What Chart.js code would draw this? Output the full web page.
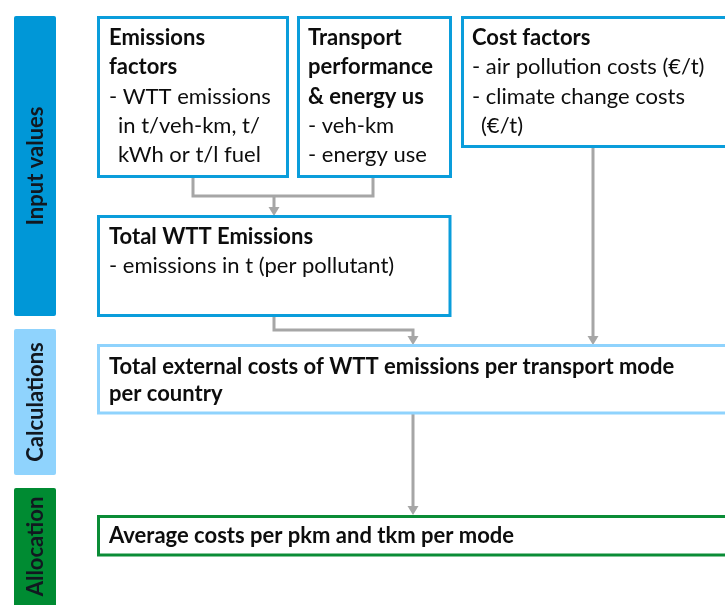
<!DOCTYPE html>
<html><head><meta charset="utf-8">
<script src="https://cdn.jsdelivr.net/npm/chart.js@4.4.1/dist/chart.umd.min.js"></script>
<style>html,body{margin:0;padding:0;background:#fff;overflow:hidden}#wrap{width:725px;height:605px;position:relative}</style>
</head><body><div id="wrap"><canvas id="c"></canvas></div>
<script>
// ---- content ----
const stageNames = ['Input values', 'Calculations', 'Allocation'];
const boxTitles = [
  ['Emissions', 'factors'],
  ['Transport', 'performance', '& energy us'],
  ['Cost factors'],
  ['Total WTT Emissions'],
  ['Total external costs of WTT emissions per transport mode', 'per country'],
  ['Average costs per pkm and tkm per mode']
];
const boxItems = [
  ['- WTT emissions', 'in t/veh-km, t/', 'kWh or t/l fuel'],
  ['- veh-km', '- energy use'],
  ['- air pollution costs (€/t)', '- climate change costs', '(€/t)'],
  ['- emissions in t (per pollutant)'],
  [],
  []
];
// which item lines are indented (continuation lines)
const itemIndent = [[0, 1, 1], [0, 0], [0, 0, 1], [0], [], []];

// ---- layout (diagram units = px of a 725x605 canvas) ----
const stageLayout = [
  {x0: 14, x1: 56, y0: 16, y1: 316, color: '#0097d7'},
  {x0: 14, x1: 56, y0: 329, y1: 475, color: '#8fd3fd'},
  {x0: 14, x1: 56, y0: 488, y1: 612, color: '#008b32'}
];
const BLUE = '#0a9ddb', LIGHT = '#8fd3fd', GREEN = '#0a8c36', GREY = '#a6a6a6';
const boxLayout = [
  {x0: 98.5, y0: 17.5, x1: 287.5, y1: 176.5, color: BLUE, tx: 109, ty: 45, lh: 29.3},
  {x0: 298.5, y0: 17.5, x1: 450.5, y1: 176.5, color: BLUE, tx: 308, ty: 45, lh: 29.3},
  {x0: 462.5, y0: 17.5, x1: 740, y1: 146.5, color: BLUE, tx: 472, ty: 45, lh: 29.3},
  {x0: 98.5, y0: 216.5, x1: 450, y1: 315.5, color: BLUE, tx: 109, ty: 244, lh: 29},
  {x0: 98.5, y0: 345.5, x1: 740, y1: 413, color: LIGHT, tx: 109, ty: 374, lh: 27},
  {x0: 98.5, y0: 516.5, x1: 740, y1: 555, color: GREEN, tx: 109, ty: 543, lh: 27}
];
const connectors = [
  {pts: [[193, 177], [193, 196], [373, 196], [373, 177]], arrow: false},
  {pts: [[274, 196], [274, 207]], arrow: true},
  {pts: [[274, 316], [274, 330], [413, 330], [413, 336]], arrow: true},
  {pts: [[593, 147], [593, 336]], arrow: true},
  {pts: [[413, 414], [413, 506]], arrow: true}
];

const FONT = 'Lato, "Open Sans", sans-serif';
const FS = 22;

const diagramPlugin = {
  id: 'diagram',
  afterDatasetsDraw(chart) {
    const ctx = chart.ctx, xs = chart.scales.x, ys = chart.scales.y;
    const X = v => xs.getPixelForValue(v), Y = v => ys.getPixelForValue(v);
    ctx.save();
    // arrowheads
    chart.data.datasets.forEach((ds, i) => {
      if (!connectors[i].arrow) return;
      const n = ds.data.length;
      const a = ds.data[n - 2], b = ds.data[n - 1];
      const ax = X(a.x), ay = Y(a.y), bx = X(b.x), by = Y(b.y);
      const ang = Math.atan2(by - ay, bx - ax);
      const L = 9, W = 5.5;
      ctx.fillStyle = GREY;
      ctx.beginPath();
      ctx.moveTo(bx + Math.cos(ang) * L, by + Math.sin(ang) * L);
      ctx.lineTo(bx - Math.sin(ang) * W, by + Math.cos(ang) * W);
      ctx.lineTo(bx + Math.sin(ang) * W, by - Math.cos(ang) * W);
      ctx.closePath();
      ctx.fill();
    });
    // stage bars
    stageLayout.forEach((s, i) => {
      ctx.fillStyle = s.color;
      ctx.beginPath();
      ctx.roundRect(X(s.x0), Y(s.y0), X(s.x1) - X(s.x0), Y(s.y1) - Y(s.y0), 2);
      ctx.fill();
      ctx.save();
      ctx.translate((X(s.x0) + X(s.x1)) / 2 + 1, (Y(s.y0) + Y(Math.min(s.y1, 605))) / 2);
      ctx.rotate(-Math.PI / 2);
      ctx.fillStyle = '#111820';
      ctx.font = 'bold 22px ' + FONT;
      ctx.textAlign = 'center';
      ctx.textBaseline = 'middle';
      ctx.fillText(stageNames[i], 0, 0);
      ctx.restore();
    });
    // boxes
    boxLayout.forEach((b, i) => {
      ctx.fillStyle = '#fff';
      ctx.fillRect(X(b.x0), Y(b.y0), X(b.x1) - X(b.x0), Y(b.y1) - Y(b.y0));
      ctx.strokeStyle = b.color;
      ctx.lineWidth = 3;
      ctx.strokeRect(X(b.x0), Y(b.y0), X(b.x1) - X(b.x0), Y(b.y1) - Y(b.y0));
      ctx.fillStyle = '#0d0d0d';
      ctx.textAlign = 'left';
      ctx.textBaseline = 'alphabetic';
      let line = 0;
      ctx.font = 'bold ' + FS + 'px ' + FONT;
      boxTitles[i].forEach(t => { ctx.fillText(t, X(b.tx), Y(b.ty + line * b.lh)); line++; });
      ctx.font = FS + 'px ' + FONT;
      boxItems[i].forEach((t, k) => {
        ctx.fillText(t, X(b.tx + (itemIndent[i][k] ? 9 : 0)), Y(b.ty + line * b.lh));
        line++;
      });
    });
    ctx.restore();
  }
};

const canvas = document.getElementById('c');
canvas.width = 725; canvas.height = 605;
new Chart(canvas, {
  type: 'scatter',
  data: {
    datasets: connectors.map(c => ({
      data: c.pts.map(p => ({x: p[0], y: p[1]})),
      showLine: true,
      borderColor: GREY,
      borderWidth: 3,
      pointRadius: 0,
      fill: false,
      tension: 0
    }))
  },
  options: {
    responsive: false,
    animation: false,
    layout: {padding: 0},
    plugins: {legend: {display: false}, tooltip: {enabled: false}},
    scales: {
      x: {type: 'linear', min: 0, max: 725, display: false},
      y: {type: 'linear', min: 0, max: 605, reverse: true, display: false}
    }
  },
  plugins: [diagramPlugin]
});
</script>
</body></html>
